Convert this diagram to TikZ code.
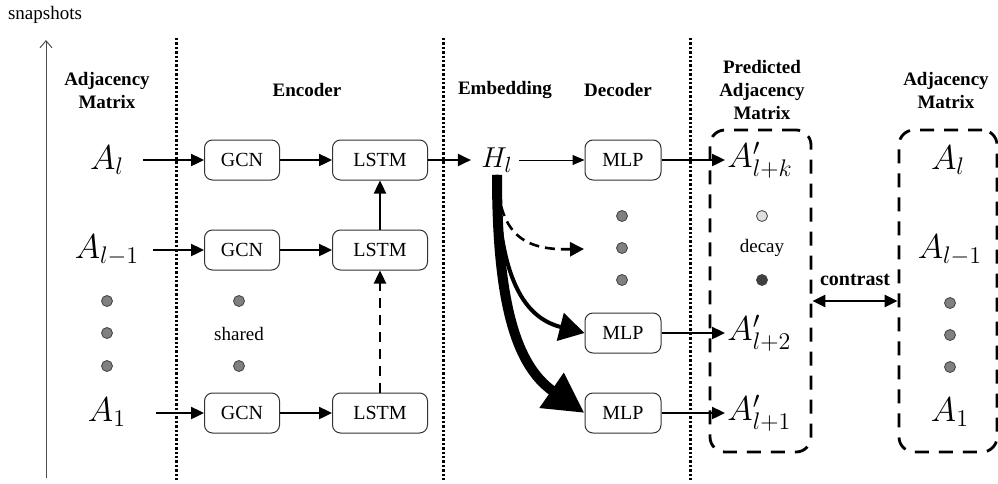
\documentclass[tikz,border=0pt]{standalone}
\usepackage{fontspec}
\setmainfont{Liberation Serif}
\usetikzlibrary{arrows.meta}
\begin{document}
\begin{tikzpicture}[x=0.5pt,y=-0.5pt,
  box/.style={draw=black!80, rounded corners=4pt, minimum height=20pt, inner sep=0pt, line width=0.5pt, font=\fontsize{10}{12}\selectfont},
  gcn/.style={box, minimum width=37.5pt},
  lstm/.style={box, minimum width=47.5pt},
  mlp/.style={box, minimum width=38pt},
  hdr/.style={font=\bfseries\fontsize{9.5}{11.5}\selectfont, align=center},
  txt/.style={font=\fontsize{9.5}{11}\selectfont},
  mA/.style={inner sep=1pt, font=\fontsize{17.5}{20}\selectfont},
  dot/.style={circle, draw=black!75, fill=gray, line width=0.4pt, minimum size=5.5pt, inner sep=0pt},
  sep/.style={line width=1.5pt, dash pattern=on 1.2pt off 1pt},
  arr/.style={line width=1.2pt, -{Triangle[length=6.5pt,width=6pt]}},
  thinarr/.style={line width=0.5pt, -{Triangle[length=6pt,width=5pt]}},
  dbox/.style={draw, line width=1.4pt, dash pattern=on 7pt off 5pt, rounded corners=7.5pt, inner sep=0pt}
]
\useasboundingbox (0,0) rectangle (998,483);

% axis
\node[txt] (snap) at (45,15) {snapshots};
\coordinate (ax0) at (46,478);
\coordinate (ax1) at (46,40);
\draw[black!70, line width=0.5pt, -{Straight Barb[length=3.5pt,width=6pt]}] (ax0) -- (ax1);

% separators
\draw[sep] (176,38) -- (176,481);
\draw[sep] (443,38) -- (443,481);
\draw[sep] (690,38) -- (690,481);

% headers
\node[hdr] (h1) at (107,90) {Adjacency\\Matrix};
\node[hdr] (h2) at (307,90) {Encoder};
\node[hdr] (h3) at (505,90) {Embedding};
\node[hdr] (h4) at (618,90) {Decoder};
\node[hdr] (h5) at (762,90) {Predicted\\Adjacency\\Matrix};
\node[hdr] (h6) at (946,90) {Adjacency\\Matrix};

% inputs
\node[mA] (Al) at (107,160) {$A_l$};
\node[mA] (Al1) at (107,250) {$A_{l-1}$};
\node[mA] (A1) at (107,412) {$A_1$};
\node[dot] (ld1) at (107,301) {};
\node[dot] (ld2) at (107,333) {};
\node[dot] (ld3) at (107,366) {};

% encoder
\node[gcn] (g1) at (242,160) {GCN};
\node[gcn] (g2) at (242,250) {GCN};
\node[gcn] (g3) at (242,413) {GCN};
\node[lstm] (l1) at (380,160) {LSTM};
\node[lstm] (l2) at (380,250) {LSTM};
\node[lstm] (l3) at (380,413) {LSTM};
\node[dot] (ed1) at (239,301) {};
\node[txt] (shared) at (239,334) {shared};
\node[dot] (ed2) at (239,366) {};

\coordinate (s1) at (143,160);
\coordinate (s2) at (153,250);
\coordinate (s3) at (156,413);
\draw[arr] (s1) -- (g1.west);
\draw[arr] (s2) -- (g2.west);
\draw[arr] (s3) -- (g3.west);
\draw[arr] (g1) -- (l1);
\draw[arr] (g2) -- (l2);
\draw[arr] (g3) -- (l3);
\draw[arr] (l2) -- (l1);
\draw[arr, dash pattern=on 5pt off 3.5pt] (l3) -- (l2);

% embedding
\node[inner sep=1pt, font=\fontsize{15}{17}\selectfont] (H) at (497,160) {$H_l$};
\draw[arr, shorten >=4pt] (l1) -- (H);

% decoder
\node[mlp] (m1) at (623,160) {MLP};
\node[mlp] (m2) at (623,333) {MLP};
\node[mlp] (m3) at (623,413) {MLP};
\node[dot] (dd1) at (622,216) {};
\node[dot] (dd2) at (622,248) {};
\node[dot] (dd3) at (622,280) {};
\coordinate (dend) at (584,249);

\draw[thinarr, shorten <=2pt] (H) -- (m1);
\draw[line width=1.3pt, dash pattern=on 5pt off 3pt, -{Triangle[length=7pt,width=7pt]}]
  (H.south) .. controls (499,240) and (530,250) .. (dend);
\draw[line width=2pt, -{Triangle[length=12.5pt,width=14pt]}]
  (H.south) .. controls (499,280) and (525,318) .. (m2.west);
\draw[line width=5pt, -{Triangle[length=20pt,width=20pt]}]
  (H.south) .. controls (497,300) and (515,365) .. (m3.west);

% predicted
\node[dbox, minimum width=50.5pt, minimum height=161pt] (pbox) at (760.5,291) {};
\node[mA, anchor=west] (ap1) at (725,160) {$A'_{l+k}$};
\node[mA, anchor=west] (ap2) at (725,333) {$A'_{l+2}$};
\node[mA, anchor=west] (ap3) at (725,413) {$A'_{l+1}$};
\draw[arr] (m1) -- (ap1.west);
\draw[arr] (m2) -- (ap2.west);
\draw[arr] (m3) -- (ap3.west);
\node[dot, fill=gray!25] (pd1) at (762,216) {};
\node[txt] (decay) at (762,248) {decay};
\node[dot, fill=black!75] (pd2) at (762,280) {};

% ground truth
\node[dbox, minimum width=49pt, minimum height=161pt] (rbox) at (948,291) {};
\node[mA] (ra1) at (948,160) {$A_l$};
\node[mA] (ra2) at (950,250) {$A_{l-1}$};
\node[dot] (rd1) at (950,303) {};
\node[dot] (rd2) at (950,335) {};
\node[dot] (rd3) at (950,367) {};
\node[mA] (ra3) at (950,412) {$A_1$};

% contrast
\coordinate (cc) at (855,301);
\node[font=\bfseries\fontsize{10}{12}\selectfont] (ct) at (855,280) {contrast};
\draw[line width=1.2pt, {Triangle[length=6.5pt,width=6pt]}-{Triangle[length=6.5pt,width=6pt]}] (pbox.east |- cc) -- (rbox.west |- cc);
\end{tikzpicture}
\end{document}
